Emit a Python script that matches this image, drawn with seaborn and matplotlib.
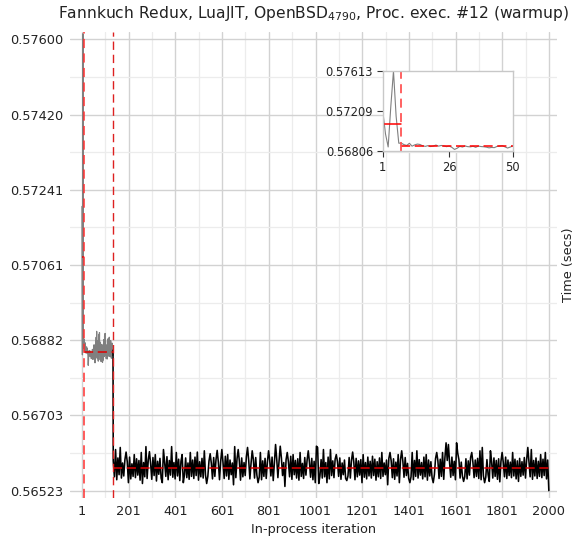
import matplotlib
matplotlib.use("Agg")
import matplotlib.pyplot as plt
import seaborn as sns
import pandas as pd

title = "Fannkuch Redux, LuaJIT, OpenBSD$_{4790}$, Proc. exec. #12 (warmup)"

# times (secs) for in-process iterations 1..134 (before the last changepoint)
warmup_times = [
    0.57201, 0.56978, 0.56847, 0.57257, 0.57613, 0.57157, 0.56885,
    0.56885, 0.56870, 0.56862, 0.56884, 0.56855, 0.56868, 0.56876, 0.56872, 0.56858,
    0.56853, 0.56860, 0.56851, 0.56856, 0.56866, 0.56855, 0.56862, 0.56857, 0.56850,
    0.56856, 0.56843, 0.56822, 0.56834, 0.56853, 0.56846, 0.56857, 0.56850, 0.56848,
    0.56854, 0.56843, 0.56856, 0.56851, 0.56849, 0.56845, 0.56838, 0.56842, 0.56840,
    0.56852, 0.56856, 0.56860, 0.56848, 0.56836, 0.56846, 0.56857,
    0.56862, 0.56840, 0.56871, 0.56848, 0.56836, 0.56866, 0.56828, 0.56858, 0.56845,
    0.56878, 0.56850, 0.56889, 0.56842, 0.56903, 0.56855, 0.56870, 0.56838, 0.56881,
    0.56846, 0.56865, 0.56832, 0.56874, 0.56852, 0.56895, 0.56860, 0.56900, 0.56848,
    0.56868, 0.56835, 0.56877, 0.56842, 0.56862, 0.56831, 0.56858, 0.56840, 0.56872,
    0.56836, 0.56864, 0.56829, 0.56850, 0.56834, 0.56869, 0.56845, 0.56883, 0.56851,
    0.56876, 0.56843, 0.56892, 0.56855, 0.56898, 0.56860, 0.56880, 0.56846, 0.56871,
    0.56838, 0.56862, 0.56841, 0.56858, 0.56837, 0.56866, 0.56849, 0.56885, 0.56852,
    0.56873, 0.56844, 0.56879, 0.56850, 0.56889, 0.56856, 0.56866, 0.56843, 0.56870,
    0.56848, 0.56881, 0.56853, 0.56861, 0.56839, 0.56868, 0.56847, 0.56875, 0.56850,
    0.56864, 0.56845, 0.56858,
]

# times (secs) read every 5th iteration from 135 to 2000
steady_first, steady_step = 135, 5
steady_times = [
    0.56594, 0.56556, 0.56621, 0.56549, 0.56601, 0.56561, 0.56626, 0.56553, 0.56589, 0.56558,
    0.56597, 0.56615, 0.56592, 0.56542, 0.56603, 0.56551, 0.56587, 0.56557, 0.56609, 0.56554,
    0.56599, 0.56560, 0.56595, 0.56548, 0.56614, 0.56540, 0.56590, 0.56556, 0.56628, 0.56552,
    0.56596, 0.56616, 0.56588, 0.56550, 0.56602, 0.56559, 0.56609, 0.56546, 0.56593, 0.56562,
    0.56600, 0.56553, 0.56542, 0.56621, 0.56591, 0.56557, 0.56604, 0.56549, 0.56595, 0.56560,
    0.56628, 0.56555, 0.56590, 0.56551, 0.56614, 0.56558, 0.56598, 0.56547, 0.56593, 0.56609,
    0.56542, 0.56561, 0.56601, 0.56554, 0.56589, 0.56550, 0.56614, 0.56557, 0.56596, 0.56552,
    0.56603, 0.56559, 0.56615, 0.56548, 0.56592, 0.56556, 0.56600, 0.56553, 0.56618, 0.56560,
    0.56540, 0.56557, 0.56594, 0.56611, 0.56588, 0.56551, 0.56602, 0.56557, 0.56597, 0.56619,
    0.56591, 0.56549, 0.56593, 0.56621, 0.56590, 0.56552, 0.56605, 0.56558, 0.56609, 0.56550,
    0.56596, 0.56561, 0.56589, 0.56537, 0.56628, 0.56554, 0.56599, 0.56621, 0.56593, 0.56548,
    0.56601, 0.56556, 0.56590, 0.56559, 0.56604, 0.56626, 0.56595, 0.56551, 0.56588, 0.56618,
    0.56597, 0.56553, 0.56602, 0.56560, 0.56542, 0.56555, 0.56614, 0.56549, 0.56594, 0.56557,
    0.56600, 0.56552, 0.56591, 0.56618, 0.56596, 0.56558, 0.56603, 0.56547, 0.56589, 0.56633,
    0.56598, 0.56554, 0.56594, 0.56629, 0.56601, 0.56559, 0.56590, 0.56533, 0.56597, 0.56614,
    0.56592, 0.56556, 0.56605, 0.56550, 0.56609, 0.56561, 0.56595, 0.56553, 0.56599, 0.56548,
    0.56614, 0.56557, 0.56588, 0.56552, 0.56602, 0.56560, 0.56596, 0.56618, 0.56591, 0.56555,
    0.56600, 0.56549, 0.56593, 0.56542, 0.56629, 0.56626, 0.56540, 0.56558, 0.56597, 0.56553,
    0.56621, 0.56556, 0.56590, 0.56542, 0.56603, 0.56551, 0.56621, 0.56559, 0.56594, 0.56554,
    0.56598, 0.56609, 0.56592, 0.56557, 0.56601, 0.56550, 0.56589, 0.56561, 0.56596, 0.56552,
    0.56547, 0.56558, 0.56602, 0.56553, 0.56595, 0.56615, 0.56591, 0.56549, 0.56600, 0.56556,
    0.56594, 0.56560, 0.56597, 0.56542, 0.56609, 0.56555, 0.56590, 0.56551, 0.56603, 0.56558,
    0.56593, 0.56553, 0.56605, 0.56559, 0.56598, 0.56548, 0.56592, 0.56556, 0.56601, 0.56552,
    0.56614, 0.56557, 0.56589, 0.56561, 0.56596, 0.56537, 0.56600, 0.56614, 0.56594, 0.56554,
    0.56599, 0.56550, 0.56591, 0.56558, 0.56609, 0.56542, 0.56597, 0.56618, 0.56593, 0.56555,
    0.56602, 0.56559, 0.56588, 0.56552, 0.56542, 0.56556, 0.56614, 0.56549, 0.56595, 0.56557,
    0.56618, 0.56553, 0.56597, 0.56560, 0.56590, 0.56551, 0.56603, 0.56556, 0.56609, 0.56548,
    0.56596, 0.56558, 0.56592, 0.56554, 0.56542, 0.56561, 0.56600, 0.56614, 0.56594, 0.56552,
    0.56598, 0.56557, 0.56614, 0.56550, 0.56601, 0.56637, 0.56595, 0.56633, 0.56590, 0.56555,
    0.56603, 0.56559, 0.56593, 0.56549, 0.56637, 0.56612, 0.56597, 0.56553, 0.56591, 0.56558,
    0.56545, 0.56556, 0.56599, 0.56551, 0.56594, 0.56560, 0.56602, 0.56614, 0.56590, 0.56554,
    0.56596, 0.56557, 0.56600, 0.56552, 0.56618, 0.56549, 0.56626, 0.56558, 0.56542, 0.56555,
    0.56597, 0.56561, 0.56545, 0.56618, 0.56592, 0.56553, 0.56601, 0.56557, 0.56595, 0.56550,
    0.56599, 0.56544, 0.56593, 0.56614, 0.56590, 0.56556, 0.56603, 0.56552, 0.56596, 0.56559,
    0.56591, 0.56554, 0.56614, 0.56558, 0.56598, 0.56551, 0.56594, 0.56545, 0.56600, 0.56557,
    0.56592, 0.56560, 0.56602, 0.56553, 0.56597, 0.56626, 0.56590, 0.56556, 0.56621, 0.56550,
    0.56595, 0.56558, 0.56601, 0.56552, 0.56593, 0.56557, 0.56609, 0.56554, 0.56598, 0.56559,
    0.56614, 0.56551, 0.56596, 0.56523,
]

changepoints = [8, 135]
segment_starts = [1, 8, 135]
segment_ends = [8, 135, 2000]
segment_means = [0.57081, 0.56854, 0.56576]

y_ticks = [0.56523, 0.56703, 0.56882, 0.57061, 0.57241, 0.57420, 0.57600]
x_ticks = [1, 201, 401, 601, 801, 1001, 1201, 1401, 1601, 1801, 2000]
inset_y_ticks = [0.56806, 0.57209, 0.57613]
inset_x_ticks = [1, 26, 50]

warm = pd.DataFrame({"iteration": range(1, len(warmup_times) + 1),
                     "time": warmup_times})
steady_iters = list(range(steady_first, steady_first + steady_step * len(steady_times), steady_step))
# start the black line from the last warmup point so the drop is drawn black
steady = pd.DataFrame({"iteration": [len(warmup_times)] + steady_iters,
                       "time": [warmup_times[-1]] + steady_times})

sns.set_theme(style="whitegrid")
plt.rcParams["font.family"] = ["DejaVu Sans"]

fig = plt.figure(figsize=(5.74, 5.44), dpi=100)
ax = fig.add_axes([0.122, 0.085, 0.848, 0.856])

sns.lineplot(data=warm, x="iteration", y="time", ax=ax, color="#808080", lw=0.9)
sns.lineplot(data=steady, x="iteration", y="time", ax=ax, color="black", lw=1.15)
for s, e, m in zip(segment_starts, segment_ends, segment_means):
    ax.plot([s, e], [m, m], color="#e00000", lw=1.1, ls=(0, (6, 3)))
ax.axvline(changepoints[0], color="#ff3030", lw=1.1, ls=(0, (6, 3.5)))
ax.axvline(changepoints[1], color="#dd2020", lw=1.0, ls=(0, (6, 3.5)))

ax.set_xlim(-50, 2034)
ax.set_ylim(0.56506, 0.57617)
ax.set_xticks(x_ticks)
ax.set_xticks([t + 100 for t in x_ticks[:-1]], minor=True)
ax.set_yticks(y_ticks)
ax.set_yticks([(a + b) / 2 for a, b in zip(y_ticks[:-1], y_ticks[1:])], minor=True)
ax.set_yticklabels([f"{t:.5f}" for t in y_ticks])
ax.grid(which="major", color="#d2d2d2", lw=1)
ax.grid(which="minor", color="#ececec", lw=0.9)
ax.tick_params(which="both", length=0, labelsize=9.3, labelcolor="#222222")
ax.tick_params(axis="y", pad=5)
ax.tick_params(axis="x", pad=5)
for sp in ax.spines.values():
    sp.set_visible(False)
ax.set_xlabel("In-process iteration", fontsize=9.3, color="#222222")
ax.set_ylabel("Time (secs)", fontsize=9.3, color="#222222")
ax.yaxis.set_label_position("right")
ax.set_title(title, fontsize=11.2, color="#222222", pad=10)

# inset: first 50 iterations
ins = fig.add_axes([0.667, 0.7224, 0.2265, 0.147])
ins.set_facecolor("white")
sns.lineplot(data=warm[warm["iteration"] <= 50], x="iteration", y="time", ax=ins,
             color="#808080", lw=0.8)
ins.plot([segment_starts[0], segment_ends[0]], [segment_means[0]] * 2, color="red", lw=1.1)
ins.plot([segment_starts[1], 50], [segment_means[1]] * 2, color="red", lw=1.1, ls=(0, (6, 3)))
ins.axvline(changepoints[0], color="#ff5555", lw=1.3, ls=(0, (5, 3)))
ins.set_xlim(1, 50)
ins.set_ylim(inset_y_ticks[0], inset_y_ticks[-1])
ins.set_xticks(inset_x_ticks)
ins.set_yticks(inset_y_ticks)
ins.set_yticklabels([f"{t:.5f}" for t in inset_y_ticks])
ins.grid(False)
ins.set_xlabel("")
ins.set_ylabel("")
for sp in ins.spines.values():
    sp.set_visible(True)
    sp.set_color("#c8c8c8")
    sp.set_linewidth(1)
ins.tick_params(which="both", length=4, width=0.8, color="#333333", labelsize=8.3,
                labelcolor="#222222", pad=3, left=True, bottom=True)

fig.savefig("out.png", dpi=100)
